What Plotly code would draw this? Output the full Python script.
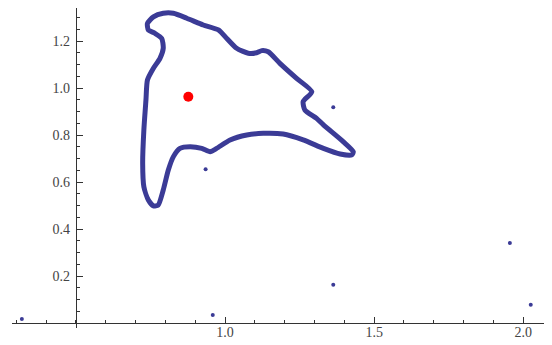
import plotly.graph_objects as go

# closed region outline (traced clockwise from the left edge)
curve_x = [0.735, 0.740, 0.760, 0.782, 0.793, 0.788, 0.765, 0.743, 0.740, 0.760,
           0.793, 0.827, 0.872, 0.927, 0.978, 1.006, 1.039, 1.078, 1.106, 1.123,
           1.145, 1.184, 1.240, 1.291, 1.262, 1.268, 1.307, 1.330, 1.397, 1.430,
           1.425, 1.386, 1.330, 1.262, 1.195, 1.128, 1.073, 1.017, 0.972, 0.950,
           0.922, 0.883, 0.849, 0.827, 0.810, 0.793, 0.776, 0.760, 0.743, 0.728,
           0.724, 0.728, 0.735]
curve_y = [0.949, 1.034, 1.084, 1.126, 1.169, 1.211, 1.233, 1.247, 1.275, 1.303,
           1.318, 1.318, 1.297, 1.268, 1.247, 1.211, 1.169, 1.148, 1.150, 1.159,
           1.154, 1.105, 1.041, 0.984, 0.942, 0.906, 0.871, 0.843, 0.771, 0.729,
           0.715, 0.719, 0.743, 0.779, 0.804, 0.807, 0.800, 0.779, 0.743, 0.729,
           0.743, 0.750, 0.743, 0.708, 0.651, 0.566, 0.502, 0.498, 0.523, 0.580,
           0.680, 0.821, 0.949]

# scattered sample points
pts_x = [0.319, 0.959, 1.363, 2.025, 1.955, 1.363, 0.935]
pts_y = [0.017, 0.034, 0.163, 0.078, 0.340, 0.918, 0.654]

# highlighted point
red_x = [0.877]
red_y = [0.963]

x_ticks = [1.0, 1.5, 2.0]
x_labels = ["1.0", "1.5", "2.0"]
y_ticks = [0.2, 0.4, 0.6, 0.8, 1.0, 1.2]
y_labels = ["0.2", "0.4", "0.6", "0.8", "1.0", "1.2"]

# the page body has an 8px margin, so the figure is drawn 8px in from the corner
OFF = 8
W, H = 552 - OFF, 345 - OFF

fig = go.Figure()
fig.add_trace(go.Scatter(x=curve_x, y=curve_y, mode="lines",
                         line=dict(color="#3b3b96", width=5, shape="spline", smoothing=0.6),
                         hoverinfo="skip"))
fig.add_trace(go.Scatter(x=pts_x, y=pts_y, mode="markers",
                         marker=dict(color="#3b3b96", size=4)))
fig.add_trace(go.Scatter(x=red_x, y=red_y, mode="markers",
                         marker=dict(color="#ff0000", size=10)))

# screen calibration: x=1.0 at 225px, 298.3px per unit; y=0 at 323px, 235px per unit
x_lo, x_hi = 12, 544
y_top, y_bot = OFF, 328
xr = [1 + (x_lo - 225) / 298.3, 1 + (x_hi - 225) / 298.3]
yr = [(323 - y_bot) / 235, (323 - y_top) / 235]

tickfont = dict(family="Liberation Serif, Times New Roman, serif", size=14, color="#444444")
fig.update_layout(
    width=W, height=H,
    margin=dict(l=0, r=0, t=0, b=0),
    paper_bgcolor="white", plot_bgcolor="white",
    showlegend=False,
    xaxis=dict(range=xr, domain=[(x_lo - OFF) / W, (x_hi - OFF) / W],
               anchor="free", automargin=False,
               position=(H - (323 - OFF)) / H, showgrid=False, zeroline=False,
               showline=True, linecolor="#333333", linewidth=1,
               tickmode="array", tickvals=x_ticks, ticktext=x_labels,
               ticks="inside", ticklen=6, tickcolor="#333333", tickfont=tickfont,
               ticklabelstandoff=-4,
               minor=dict(ticks="inside", ticklen=3, dtick=0.1, tick0=0,
                          tickcolor="#333333", showgrid=False)),
    yaxis=dict(range=yr, domain=[(H - (y_bot - OFF)) / H, (H - (y_top - OFF)) / H],
               anchor="free", automargin=False, position=(75.8 - OFF) / W,
               showgrid=False, zeroline=False,
               showline=True, linecolor="#333333", linewidth=1,
               tickmode="array", tickvals=y_ticks, ticktext=y_labels,
               ticks="inside", ticklen=6, tickcolor="#333333", tickfont=tickfont,
               ticklabelstandoff=3,
               minor=dict(ticks="inside", ticklen=3, dtick=0.05, tick0=0,
                          tickcolor="#333333", showgrid=False)),
)

fig.write_html("out.html")
